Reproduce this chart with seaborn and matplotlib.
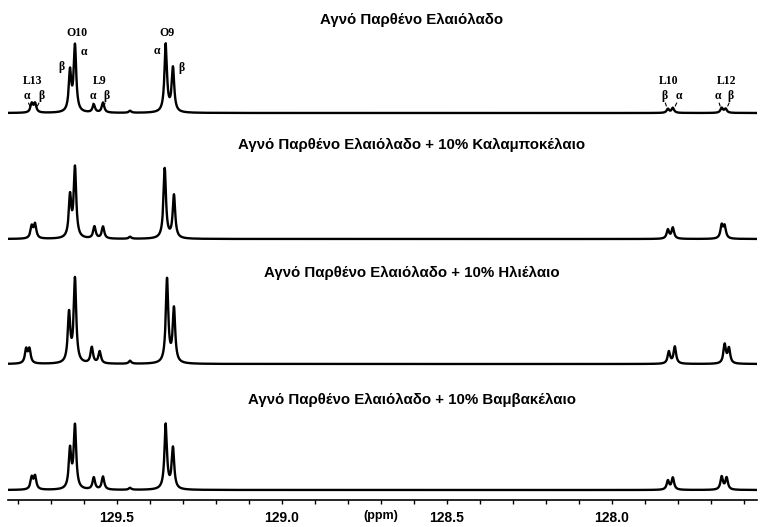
import numpy as np
import pandas as pd
import matplotlib
matplotlib.use("Agg")
import matplotlib.pyplot as plt
import seaborn as sns

# peak order: L13a, L13b, O10b, O10a, L9a, L9b, small, O9a, O9b, L10b, L10a, L12a, L12b
shift_pure = [129.758, 129.748, 129.642, 129.627, 129.570, 129.542, 129.460, 129.352, 129.330, 127.830, 127.815, 127.667, 127.655]
height_pure = [9, 9, 40, 66, 8, 10, 2, 68, 44, 4, 5, 5, 4]

shift_corn = [129.758, 129.748, 129.642, 129.627, 129.568, 129.542, 129.460, 129.355, 129.327, 127.830, 127.815, 127.667, 127.658]
height_corn = [12, 14, 41, 70, 12, 12, 2, 70, 43, 9, 11, 13, 12]

shift_sun = [129.775, 129.765, 129.645, 129.627, 129.576, 129.552, 129.460, 129.348, 129.327, 127.827, 127.809, 127.658, 127.645]
height_sun = [14, 14, 49, 84, 16, 12, 3, 84, 54, 12, 17, 19, 15]

shift_cotton = [129.758, 129.748, 129.642, 129.627, 129.570, 129.542, 129.460, 129.352, 129.330, 127.830, 127.815, 127.667, 127.652]
height_cotton = [12, 13, 39, 63, 12, 13, 2, 65, 41, 9, 12, 13, 12]

titles = ["Αγνό Παρθένο Ελαιόλαδο",
          "Αγνό Παρθένο Ελαιόλαδο + 10% Καλαμποκέλαιο",
          "Αγνό Παρθένο Ελαιόλαδο + 10% Ηλιέλαιο",
          "Αγνό Παρθένο Ελαιόλαδο + 10% Βαμβακέλαιο"]
offsets = [387, 261, 136, 10]
title_y = [480, 355, 227, 100]

spectra = [(shift_pure, height_pure), (shift_corn, height_corn),
           (shift_sun, height_sun), (shift_cotton, height_cotton)]

# peak labels on the top trace: (text, ppm, y)
group_labels = [("L13", 129.755, 419), ("O10", 129.621, 467), ("L9", 129.552, 419),
                ("O9", 129.348, 467), ("L10", 127.827, 419), ("L12", 127.652, 419)]
# alpha/beta labels: (text, ppm, y, peak index or None)
sub_labels = [("α", 129.773, 404, 0), ("β", 129.730, 404, 1),
              ("α", 129.600, 448, None), ("β", 129.667, 433, None),
              ("α", 129.573, 404, 4), ("β", 129.533, 404, 5),
              ("α", 129.379, 449, None), ("β", 129.303, 432, None),
              ("β", 127.842, 404, 9), ("α", 127.797, 404, 10),
              ("α", 127.679, 404, 11), ("β", 127.639, 404, 12)]

hwhm = 0.0045
ppm = np.linspace(127.56, 129.83, 5000)

rows = []
for k, (pos, hts) in enumerate(spectra):
    y = np.zeros_like(ppm)
    for p, h in zip(pos, hts):
        y += h / (1 + ((ppm - p) / hwhm) ** 2)
    rows.append(pd.DataFrame({"ppm": ppm, "intensity": y + offsets[k], "spectrum": k}))
df = pd.concat(rows)

sns.set_style("white")
plt.rcParams["font.family"] = ["Liberation Sans", "DejaVu Sans"]
plt.rcParams["text.color"] = "black"
plt.rcParams["xtick.color"] = "black"

fig = plt.figure(figsize=(7.61, 5.27), dpi=100)
ax = fig.add_axes([8 / 761, 27 / 527, 749 / 761, 500 / 527])

for k in range(4):
    sns.lineplot(data=df[df["spectrum"] == k], x="ppm", y="intensity",
                 color="black", lw=1.7, ax=ax, legend=False)
    ax.text(129.0 - (412 - 282) / 330, title_y[k], titles[k],
            ha="center", va="center", fontsize=10.8, fontweight="bold", color="black")

for txt, x, y in group_labels:
    ax.text(x, y, txt, ha="center", va="center", fontsize=8.5, fontweight="bold",
            family="Liberation Serif", color="black")
for txt, x, y, idx in sub_labels:
    ax.text(x, y, txt, ha="center", va="center", fontsize=8.5, fontweight="bold",
            family="Liberation Serif", color="black")
    if idx is not None:
        px = shift_pure[idx]
        ax.plot([x + (px - x) * 0.35, x + (px - x) * 0.6], [y - 7, y - 10],
                color="black", lw=0.8)

ax.set_xlim(129.83, 127.56)
ax.set_ylim(0, 500)
ax.set_xticks([129.5, 129.0, 128.5, 128.0])
ax.set_xticks(np.arange(127.6, 129.85, 0.1), minor=True)
ax.set_xticklabels(["129.5", "129.0", "128.5", "128.0"], fontweight="bold", fontsize=10)
ax.tick_params(axis="x", which="both", direction="out", length=3, width=1, pad=5,
               bottom=True, color="black", labelcolor="black")
ax.set_yticks([])
ax.set_xlabel("")
ax.set_ylabel("")
for s in ["top", "left", "right"]:
    ax.spines[s].set_visible(False)
ax.spines["bottom"].set_color("black")
ax.spines["bottom"].set_linewidth(1.2)
ax.text(128.70, -16, "(ppm)", ha="center", va="center", fontsize=9, fontweight="bold",
        color="black")

fig.savefig("out.png", dpi=100)
